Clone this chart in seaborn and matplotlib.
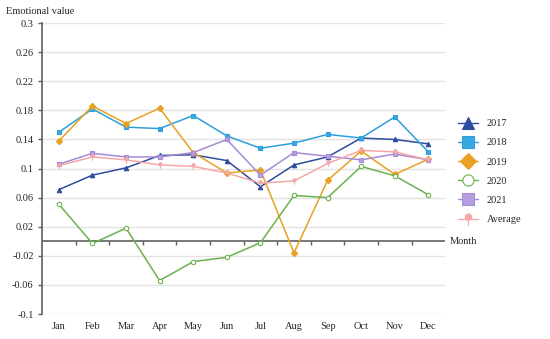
#!/usr/bin/env python3
"""Monthly emotional value by year, 2017-2021, plus the average."""

import numpy as np
import pandas as pd
import seaborn as sns
import matplotlib.pyplot as plt
from matplotlib.lines import Line2D
from matplotlib.path import Path

months = ["Jan", "Feb", "Mar", "Apr", "May", "Jun", "Jul", "Aug", "Sep", "Oct", "Nov", "Dec"]
v2017 = [0.071, 0.091, 0.101, 0.118, 0.119, 0.111, 0.075, 0.105, 0.116, 0.142, 0.140, 0.134]
v2018 = [0.150, 0.182, 0.157, 0.155, 0.173, 0.145, 0.128, 0.135, 0.147, 0.142, 0.171, 0.123]
v2019 = [0.138, 0.186, 0.162, 0.183, 0.122, 0.094, 0.098, -0.016, 0.084, 0.124, 0.092, 0.113]
v2020 = [0.051, -0.003, 0.018, -0.054, -0.028, -0.022, -0.002, 0.063, 0.060, 0.103, 0.090, 0.064]
v2021 = [0.106, 0.121, 0.116, 0.116, 0.122, 0.140, 0.091, 0.122, 0.117, 0.112, 0.120, 0.112]
v_avg = [0.104, 0.116, 0.112, 0.105, 0.103, 0.094, 0.080, 0.083, 0.107, 0.125, 0.123, 0.112]

series = {"2017": v2017, "2018": v2018, "2019": v2019, "2020": v2020, "2021": v2021, "Average": v_avg}
yticks = [-0.1, -0.06, -0.02, 0.02, 0.06, 0.1, 0.14, 0.18, 0.22, 0.26, 0.3]

df = pd.concat([pd.DataFrame({"month": np.arange(len(months)), "value": v, "year": k})
                for k, v in series.items()], ignore_index=True)

# pin-shaped marker for the average line
t = np.linspace(0, 2 * np.pi, 30)
pin = Path.make_compound_path(
    Path(np.column_stack([0.45 * np.cos(t), 0.35 + 0.45 * np.sin(t)]), closed=True),
    Path([(0, -0.1), (0, -0.9)]))

colors = {"2017": "#2f4c9c", "2018": "#2d9fd9", "2019": "#e9a122", "2020": "#6bb24f",
          "2021": "#a68bd6", "Average": "#f4a7a7"}
markers = {"2017": "^", "2018": "s", "2019": "D", "2020": "o", "2021": "s", "Average": pin}
faces = {"2017": "#2f4c9c", "2018": "#36a9e1", "2019": "#e9a122", "2020": "white",
         "2021": "#b49de0", "Average": "#f4a7a7"}

sns.set_theme(style="white")
plt.rcParams["font.family"] = ["Liberation Serif", "DejaVu Serif"]

fig = plt.figure(figsize=(5.5, 3.39), dpi=100)
ax = fig.add_axes([0.0764, 0.0737, 0.733, 0.858])

for y in yticks:
    ax.axhline(y, color="#e3e3e3", lw=1.0, zorder=0)
ax.axhline(0, color="#606060", lw=1.2, zorder=1)

sns.lineplot(data=df, x="month", y="value", hue="year", palette=colors, lw=1.1,
             legend=False, ax=ax, zorder=3)
for line, key in zip(ax.get_lines()[-len(series):], series):
    line.set_marker(markers[key])
    line.set_markersize(3.2 if key != "Average" else 4.5)
    line.set_markerfacecolor(faces[key])
    line.set_markeredgecolor(colors[key])
    line.set_markeredgewidth(0.8)

ax.set_xlim(-0.5, len(months) - 0.5)
ax.set_ylim(-0.1, 0.3)
ax.set_yticks(yticks)
ax.set_yticklabels([f"{y:g}" for y in yticks])
ax.set_xticks(range(len(months)))
ax.set_xticklabels(months)
ax.tick_params(axis="x", length=0, labelsize=7.5, pad=6)
ax.tick_params(axis="y", left=True, length=3, width=1, color="#606060", labelsize=7.5, pad=3)
ax.set_xlabel("")
ax.set_ylabel("")
for s in ["top", "right", "bottom"]:
    ax.spines[s].set_visible(False)
ax.spines["left"].set_color("#606060")
ax.spines["left"].set_linewidth(1.2)

# category boundary ticks on the zero line
sec = ax.secondary_xaxis(0.25)
sec.set_xticks(np.arange(len(months) - 1) + 0.5)
sec.set_xticklabels([])
sec.tick_params(axis="x", length=3, width=1, color="#606060", direction="out")
sec.spines["bottom"].set_visible(False)

fig.text(0.01, 0.965, "Emotional value", fontsize=7.5, va="center", ha="left")
ax.text(1.012, 0.25, "Month", transform=ax.transAxes, fontsize=7.5, va="center", ha="left")

handles = [Line2D([0], [0], color=colors[k], lw=1, marker=markers[k],
                  markersize=8 if k != "Average" else 9, markerfacecolor=faces[k],
                  markeredgecolor=colors[k], markeredgewidth=0.8) for k in series]
fig.legend(handles, list(series), loc="center left", bbox_to_anchor=(0.815, 0.494),
           frameon=False, fontsize=7.5, handlelength=2.0, labelspacing=0.95, handletextpad=0.8)

fig.savefig("out.png", dpi=100)
